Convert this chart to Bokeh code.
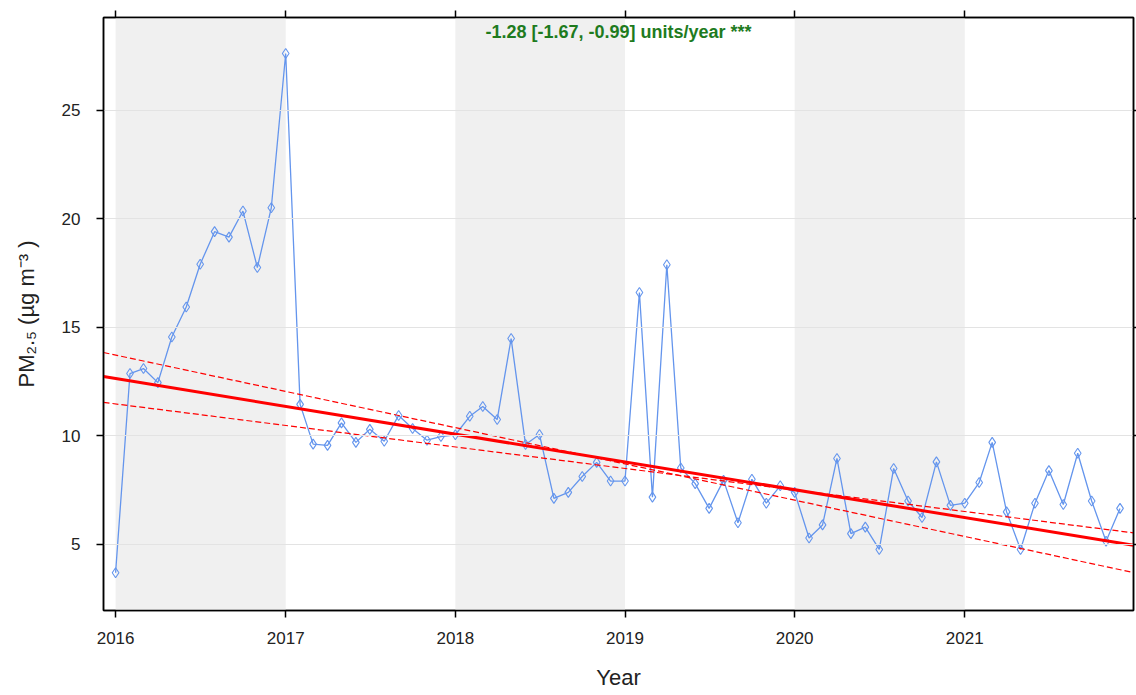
import pandas as pd
from bokeh.plotting import figure
from bokeh.models import (Range1d, FixedTicker, DatetimeAxis, LinearAxis, BoxAnnotation,
                          Label, DatetimeTickFormatter, ColumnDataSource, CustomJSTickFormatter)
from bokeh.embed import file_html
from bokeh.resources import INLINE

# ---------------- data ----------------
months = pd.date_range("2016-01-01", "2021-12-01", freq="MS")
pm25 = [
    3.7, 12.87, 13.1, 12.45, 14.55, 15.93, 17.9, 19.4, 19.15, 20.35, 17.75, 20.5,   # 2016
    27.6, 11.45, 9.62, 9.56, 10.6, 9.7, 10.3, 9.75, 10.94, 10.34, 9.8, 9.97,        # 2017
    10.05, 10.9, 11.35, 10.75, 14.48, 9.6, 10.06, 7.12, 7.4, 8.13, 8.78, 7.92,      # 2018
    7.92, 16.6, 7.18, 17.88, 8.52, 7.8, 6.66, 7.95, 6.0, 8.0, 6.9, 7.7,             # 2019
    7.4, 5.3, 5.9, 8.96, 5.5, 5.8, 4.77, 8.5, 7.0, 6.24, 8.8, 6.8,                  # 2020
    6.9, 7.85, 9.7, 6.5, 4.77, 6.9, 8.4, 6.84, 9.2, 7.0, 5.15, 6.66,                # 2021
]
year_ticks = [2016, 2017, 2018, 2019, 2020, 2021]
y_ticks = [5, 10, 15, 20, 25]
band_years = [2016, 2018, 2020]

# Theil-Sen trend: slope (units/year) and value at 2016-01-01
trend_slopes = [-1.28, -1.67, -0.99]        # estimate, lower, upper
trend_at_2016 = [12.64, 13.72, 11.47]
title_text = "-1.28 [-1.67, -0.99] units/year ***"

x_start, x_end = "2015-12-06", "2021-12-30"
y_start, y_end = 1.96, 29.26


def ms(ts):
    return pd.Timestamp(ts).value / 1e6


YEAR_MS = 365.25 * 86400000.0
t0 = ms("2016-01-01")

p = figure(x_axis_type="datetime", frame_width=1030, frame_height=593,
           x_range=Range1d(ms(x_start), ms(x_end)), y_range=Range1d(y_start, y_end),
           output_backend="svg", toolbar_location=None,
           min_border_left=103, min_border_top=17, min_border_right=3, min_border_bottom=80)
p.background_fill_color = "white"
p.border_fill_color = "white"
p.outline_line_color = "black"
p.outline_line_width = 1.5

# shaded alternate years
for y in band_years:
    p.add_layout(BoxAnnotation(left=ms(f"{y}-01-01"), right=ms(f"{y + 1}-01-01"),
                               fill_color="#F0F0F0", fill_alpha=1.0, line_color=None,
                               level="underlay"))

p.xgrid.visible = False
p.ygrid.ticker = FixedTicker(ticks=y_ticks)
p.ygrid.grid_line_color = "#E3E3E3"
p.ygrid.grid_line_width = 1
p.ygrid.level = "glyph"

year_tick_ms = [ms(f"{y}-01-01") for y in year_ticks]
fmt = DatetimeTickFormatter(microseconds="%Y", milliseconds="%Y", seconds="%Y", minsec="%Y",
                            minutes="%Y", hourmin="%Y", hours="%Y", days="%Y", months="%Y",
                            years="%Y")
blank = CustomJSTickFormatter(code="return '';")

FONT = "Liberation Sans"

xa = p.xaxis[0]
xa.ticker = FixedTicker(ticks=year_tick_ms)
xa.formatter = fmt
xa.axis_label = "Year"
ya = p.yaxis[0]
ya.ticker = FixedTicker(ticks=y_ticks)
ya.axis_label = "PM\u2082.\u2085 (\u00b5g m\u207b\u00b3 )"

for ax in (xa, ya):
    ax.axis_line_color = "black"
    ax.axis_line_width = 1.5
    ax.major_tick_out = 7
    ax.major_tick_in = 0
    ax.major_tick_line_width = 1.5
    ax.minor_tick_out = 0
    ax.minor_tick_in = 0
    ax.major_label_text_font = FONT
    ax.major_label_text_font_size = "17px"
    ax.major_label_text_color = "#222222"
    ax.axis_label_text_font = FONT
    ax.axis_label_text_font_size = "22px"
    ax.axis_label_text_font_style = "normal"
    ax.axis_label_text_color = "#222222"
xa.major_label_standoff = 14
xa.axis_label_standoff = 18
ya.major_label_standoff = 16
ya.axis_label_standoff = 20

# tick-only axes on top and right
top = DatetimeAxis(ticker=FixedTicker(ticks=year_tick_ms), formatter=blank,
                   major_label_text_font_size="1px", major_label_standoff=0,
                   major_tick_out=7, major_tick_in=0, minor_tick_out=0, minor_tick_in=0,
                   major_tick_line_width=1.5, axis_line_color="black", axis_line_width=1.5)
p.add_layout(top, "above")
right = LinearAxis(ticker=FixedTicker(ticks=y_ticks), formatter=blank,
                   major_label_text_font_size="1px", major_label_standoff=0,
                   major_tick_out=3, major_tick_in=0, minor_tick_out=0, minor_tick_in=0,
                   major_tick_line_width=1.5, axis_line_color="black", axis_line_width=1.5)
p.add_layout(right, "right")

# data
src = ColumnDataSource(dict(x=months, y=pm25))
p.line("x", "y", source=src, line_color="#6495ED", line_width=1.3)
p.scatter("x", "y", source=src, marker="diamond", size=10, fill_color=None,
          line_color="#6495ED", line_width=1.1)

# trend lines
xs_line = [ms(x_start), ms(x_end)]
for i, (slope, b) in enumerate(zip(trend_slopes, trend_at_2016)):
    ys_line = [b + slope * (x - t0) / YEAR_MS for x in xs_line]
    if i == 0:
        p.line(xs_line, ys_line, line_color="red", line_width=3)
    else:
        p.line(xs_line, ys_line, line_color="red", line_width=1.2, line_dash="6 3")

# annotation text
p.add_layout(Label(x=(ms(x_start) + ms(x_end)) / 2, y=28.6, text=title_text,
                   text_align="center", text_baseline="middle", text_font=FONT,
                   text_font_size="18px", text_font_style="bold", text_color="#1E7B1E"))

open("out.html", "w").write(file_html(p, INLINE))
